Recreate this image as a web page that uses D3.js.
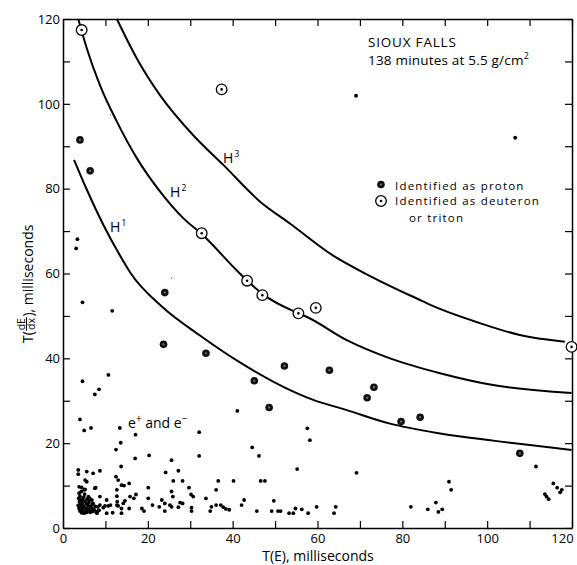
<!DOCTYPE html>
<html><head><meta charset="utf-8">
<script src="https://cdn.jsdelivr.net/npm/d3@7"></script>
<style>
body{margin:0;background:#fff}
svg{display:block}
text{font-family:"Open Sans","DejaVu Sans",sans-serif;fill:#000}
</style></head><body>
<svg id="c" width="577" height="565"></svg>
<script>
// ---------- data ----------
const xTicks=[0,10,20,30,40,50,60,70,80,90,100,110,120];
const xTickLabels=["0","","20","","40","","60","","80","","100","","120"];
const yTicks=[0,10,20,30,40,50,60,70,80,90,100,110,120];
const yTickLabels=["0","","20","","40","","60","","80","","100","","120"];

// curves [T(E), T dE/dx]
const curveH1=[[2.6,86.8],[5.6,79.8],[9.5,71.5],[13.4,64.3],[16,60],[23.3,52.2],[32.7,45.1],[42.1,38.8],[52.3,33.1],[59,30.2],[66.9,27.8],[77.1,24.6],[88.9,22.3],[101.4,20.6],[119.9,18.4]];
const curveH2=[[3.6,120],[5.6,113.1],[8.7,104.4],[12.7,95.8],[17.4,87.2],[22.9,79.3],[28.4,73],[32.7,69.3],[41.7,60],[47,55.2],[55.5,50.6],[57.4,49.8],[66.9,44.3],[77.1,40],[88.9,36.5],[101.4,33.7],[119.9,31.8]];
const curveH3=[[12.7,120],[17.4,110.7],[22.9,102],[30.7,92.6],[37.8,85.6],[46.4,77],[53.5,71.8],[63.7,64.2],[72.4,59.4],[83.4,54.1],[87.3,52.3],[98.3,48.3],[107.7,45.5],[118.3,43.9]];

// identified as deuteron or triton
const deuterons=[[4.4,117.4],[37.4,103.4],[32.7,69.5],[43.4,58.3],[47,54.9],[55.5,50.6],[59.6,51.9],[119.9,42.7]];
// identified as proton
const protons=[[4,91.5],[6.4,84.2],[24,55.5],[23.7,43.3],[33.7,41.2],[45.1,34.7],[48.6,28.4],[52.2,38.2],[62.8,37.2],[73.3,33.2],[71.7,30.7],[79.7,25.1],[84.2,26.1],[107.7,17.6]];
// unidentified tracks (e+ and e-)
const electrons=[
[69.1,101.9],[106.6,92.0],[3.4,68.1],[3.1,65.9],[4.6,53.2],[11.6,51.2],[4.6,34.6],[10.7,36.1],[8.5,32.7],[7.5,31.5],
[4.0,25.6],[5.0,23.0],[6.6,23.6],[13.4,23.6],[13.6,20.1],[12.5,18.5],[17.1,22.0],[17.0,16.4],[13.7,14.5],[20.3,17.1],
[32.1,17.0],[32.1,22.6],[25.6,16.0],[24.2,13.1],[27.2,13.5],[41.1,27.6],[44.6,19.0],[46.2,17.0],[55.2,13.9],[57.6,23.5],
[58.2,20.7],[69.2,13.0],[91.0,10.9],[91.5,9.0],[111.5,14.5],[115.6,10.5],[116.5,9.5],[117.6,9.0],[117.2,8.4],[113.6,8.0],
[114.0,7.4],[114.5,6.8],[87.9,6.0],[86.0,4.4],[88.5,3.8],[89.4,4.4],[82.0,5.0],[64.3,5.0],[63.9,3.5],[59.8,5.0],
[57.8,3.5],[56.3,4.4],[54.8,4.6],[54.3,3.5],[53.3,3.5],[40.2,11.1],[46.6,11.1],[47.6,11.1],[37.2,5.4],[37.8,4.9],
[38.4,4.5],[39.2,4.3],[42.1,5.4],[42.7,6.6],[45.7,4.0],[49.7,6.4],[49.2,4.0],[50.7,4.0],[51.3,4.0],
[12.5,12.1],[13.0,11.3],[13.8,10.1],[14.4,10.0],[12.7,9.0],[15.6,10.5],[17.2,7.9],[16.7,7.0],[15.8,7.4],[14.6,6.4],
[12.8,6.2],[13.0,5.2],[11.2,5.4],[11.7,3.6],[13.8,3.5],[15.6,4.6],[18.6,4.6],[19.1,4.0],[20.1,9.5],[20.1,7.0],
[21.1,5.4],[22.7,5.0],[23.3,6.6],[24.0,5.8],[24.0,4.0],[25.2,5.4],[25.6,5.0],[25.6,8.6],[25.9,7.4],[26.0,11.1],
[28.2,11.1],[27.6,6.0],[27.2,4.9],[28.2,5.8],[29.7,9.5],[30.2,7.9],[30.7,7.4],[30.3,4.8],[30.3,4.0],[33.7,7.0],
[34.7,4.0],[35.0,5.0],[36.1,5.4],[36.1,9.0],[36.6,11.1],
[3.6,13.7],[3.6,12.7],[5.6,13.3],[7.1,12.9],[8.7,13.5],[5.2,11.3],[5.6,10.9],[3.8,9.7],[4.4,9.6],[5.2,9.1],
[7.5,9.4],[6.0,7.4],[6.8,6.6],[7.1,5.8],[8.7,5.4],[8.5,4.2],[9.5,4.8],[12.7,5.4],[13.8,4.6],[10.3,3.5],
[8.0,3.5],[10.3,6.6],[8.7,7.4],[12.7,7.5],[7.7,9.5],[9.9,5.2],[10.7,5.2],[8.2,5.0],[8.2,4.0],[6.2,6.6],[14.2,5.8],
[3.8,8.2],[4.0,7.5],[4.2,6.8],[3.9,6.2],[4.1,5.6],[4.3,5.0],[3.8,4.6],[4.0,4.0],[4.4,3.6],[4.6,4.4],
[4.8,5.2],[4.5,5.9],[4.7,6.6],[4.9,7.3],[5.1,8.0],[5.3,6.2],[5.2,4.8],[5.4,4.1],[5.0,3.5],[5.6,3.7],
[5.8,4.5],[5.9,5.3],[5.5,5.7],[6.1,6.0],[6.2,4.2],[6.4,3.7],[6.5,5.0],[6.8,4.6],[7.0,3.9],[6.9,5.6],
[7.3,4.4],[7.6,5.1],[7.8,3.8],[4.6,3.9],[5.7,6.8],[6.3,7.0],[3.6,5.3],[3.7,7.0],[4.3,8.6],[5.0,9.0]
];
const specks=[[11.2,97.4],[25.6,58.9]];

// ---------- drawing ----------
const svg=d3.select("#c");
const x=d3.scaleLinear().domain([0,120]).range([63,572]);
const y=d3.scaleLinear().domain([0,120]).range([528,19]);

function styleAxis(g){
  g.select(".domain").attr("stroke","#000").attr("stroke-width",1.5);
  g.selectAll(".tick line").attr("stroke","#000").attr("stroke-width",1.2);
  g.selectAll(".tick text").attr("font-size",13).attr("fill","#000")
   .style("font-family",'"Open Sans","DejaVu Sans",sans-serif');
}
svg.append("g").attr("transform",`translate(0,${y(0)})`)
  .call(d3.axisBottom(x).tickValues(xTicks).tickSizeInner(-7).tickSizeOuter(0).tickPadding(6)
  .tickFormat((d,i)=>xTickLabels[i])).call(styleAxis)
  .call(g=>g.selectAll(".tick text").filter(d=>d===120).attr("dx",-10));
svg.append("g").attr("transform",`translate(0,${y(120)})`)
  .call(d3.axisTop(x).tickValues(xTicks).tickSizeInner(-7).tickSizeOuter(0).tickFormat(()=>"")).call(styleAxis);
svg.append("g").attr("transform",`translate(${x(0)},0)`)
  .call(d3.axisLeft(y).tickValues(yTicks).tickSizeInner(-7).tickSizeOuter(0).tickPadding(3)
  .tickFormat((d,i)=>yTickLabels[i])).call(styleAxis);
svg.append("g").attr("transform",`translate(${x(120)},0)`)
  .call(d3.axisRight(y).tickValues(yTicks).tickSizeInner(-7).tickSizeOuter(0).tickFormat(()=>"")).call(styleAxis);

const line=d3.line().x(d=>x(d[0])).y(d=>y(d[1])).curve(d3.curveMonotoneX);
[curveH1,curveH2,curveH3].forEach(c=>{
  svg.append("path").datum(c).attr("d",line).attr("fill","none").attr("stroke","#000").attr("stroke-width",2);
});

// e dots
svg.append("g").selectAll("circle").data(electrons).join("circle")
  .attr("cx",d=>x(d[0])).attr("cy",d=>y(d[1])).attr("r",1.9).attr("fill","#000");
svg.append("g").selectAll("circle").data(specks).join("circle")
  .attr("cx",d=>x(d[0])).attr("cy",d=>y(d[1])).attr("r",0.7).attr("fill","#555");

function proton(g,cx,cy){
  g.append("circle").attr("cx",cx).attr("cy",cy).attr("r",3.8).attr("fill","#111");
  g.append("circle").attr("cx",cx).attr("cy",cy).attr("r",1.1).attr("fill","#777");
}
function deuteron(g,cx,cy){
  g.append("circle").attr("cx",cx).attr("cy",cy).attr("r",5.3).attr("fill","#fff").attr("stroke","#000").attr("stroke-width",1.3);
  g.append("circle").attr("cx",cx).attr("cy",cy).attr("r",1.3).attr("fill","#000");
}
const pg=svg.append("g");
protons.forEach(d=>proton(pg,x(d[0]),y(d[1])));
const dg=svg.append("g");
deuterons.forEach(d=>deuteron(dg,x(d[0]),y(d[1])));

// curve labels
function hLabel(px,py,sup){
  const t=svg.append("text").attr("x",px).attr("y",py).attr("font-size",14);
  t.append("tspan").text("H");
  t.append("tspan").attr("font-size",9).attr("dy",-6).attr("dx",1).text(sup);
}
hLabel(110,232,"1");
hLabel(170,197,"2");
hLabel(223,163,"3");

// e+ and e- label
const el=svg.append("text").attr("x",128).attr("y",428).attr("font-size",14);
el.append("tspan").text("e");
el.append("tspan").attr("font-size",10).attr("dy",-6).text("+");
el.append("tspan").attr("dy",6).text(" and e");
el.append("tspan").attr("font-size",10).attr("dy",-6).text("\u2212");

// title
svg.append("text").attr("x",368).attr("y",47).attr("font-size",13.5).attr("letter-spacing",0.8).text("SIOUX FALLS");
const t2=svg.append("text").attr("x",368).attr("y",65).attr("font-size",13.5).attr("letter-spacing",0.2);
t2.append("tspan").text("138 minutes at 5.5 g/cm");
t2.append("tspan").attr("font-size",9).attr("dy",-6).text("2");

// legend
proton(svg,381,184.5);
svg.append("text").attr("x",395).attr("y",189.5).attr("font-size",11.5).attr("letter-spacing",1.2).text("Identified as proton");
deuteron(svg,381,201);
svg.append("text").attr("x",395).attr("y",205).attr("font-size",11.5).attr("letter-spacing",1.2).text("Identified as deuteron");
svg.append("text").attr("x",409).attr("y",221.5).attr("font-size",11.5).attr("letter-spacing",1.2).text("or triton");

// axis titles
svg.append("text").attr("x",318).attr("y",561).attr("font-size",14).attr("text-anchor","middle").text("T(E), milliseconds");

const yt=svg.append("g").attr("transform","translate(32.5,343) rotate(-90)");
const a=yt.append("text").attr("x",0).attr("y",0).attr("font-size",14).text("T(");
let w=a.node().getComputedTextLength();
const num=yt.append("text").attr("x",w+0.8).attr("y",-8).attr("font-size",10.5).text("dE");
const den=yt.append("text").attr("x",w+1.2).attr("y",2.5).attr("font-size",10.5).text("dx");
const fw=Math.max(num.node().getComputedTextLength(),den.node().getComputedTextLength());
yt.append("line").attr("x1",w+0.3).attr("x2",w+fw+1.8).attr("y1",-6).attr("y2",-6).attr("stroke","#000").attr("stroke-width",1);
yt.append("text").attr("x",w+fw+2.3).attr("y",0).attr("font-size",14).text("), milliseconds");
</script>
</body></html>
